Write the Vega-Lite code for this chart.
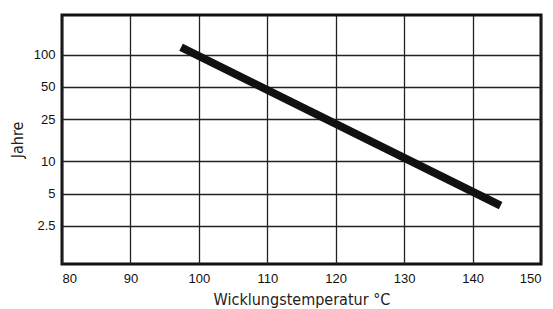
{
  "$schema": "https://vega.github.io/schema/vega-lite/v6.json",
  "autosize": "none",
  "width": 479,
  "height": 249,
  "padding": {"left": 62, "top": 15, "right": 12, "bottom": 45},
  "background": "white",
  "config": {
    "view": {"stroke": "#111", "strokeWidth": 3},
    "font": "Liberation Sans"
  },
  "data": {"values": [
    {"temp": 97.4, "jahre": 118},
    {"temp": 144.1, "jahre": 3.85}
  ]},
  "mark": {"type": "line", "color": "#111", "strokeWidth": 8, "strokeCap": "butt", "clip": true},
  "encoding": {
    "x": {
      "field": "temp", "type": "quantitative",
      "scale": {"domain": [80, 150], "nice": false, "zero": false},
      "axis": {
        "values": [80, 90, 100, 110, 120, 130, 140, 150],
        "title": "Wicklungstemperatur °C",
        "titleFont": "DejaVu Sans Condensed, Liberation Sans",
        "titleFontSize": 16, "titleFontWeight": "normal", "titleColor": "#222",
        "titlePadding": 6,
        "labelFontSize": 13, "labelColor": "#111", "labelPadding": 8,
        "domain": false, "ticks": false,
        "grid": true, "gridColor": "#222", "gridWidth": 1.3, "gridOpacity": 1
      }
    },
    "y": {
      "field": "jahre", "type": "quantitative",
      "scale": {"type": "log", "domain": [1.09, 237], "nice": false},
      "axis": {
        "values": [2.5, 5, 10, 25, 50, 100],
        "format": "~g",
        "title": "Jahre",
        "titleFont": "DejaVu Sans Condensed, Liberation Sans",
        "titleFontSize": 16, "titleFontWeight": "normal", "titleColor": "#222",
        "titlePadding": 8,
        "labelFontSize": 13, "labelColor": "#111", "labelPadding": 7,
        "domain": false, "ticks": false,
        "grid": true, "gridColor": "#222", "gridWidth": 1.3, "gridOpacity": 1
      }
    }
  }
}
